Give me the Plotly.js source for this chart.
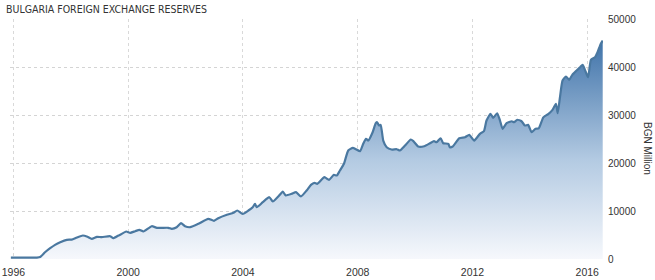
<!DOCTYPE html>
<html>
<head>
<meta charset="utf-8">
<script src="https://cdn.plot.ly/plotly-3.0.1.min.js"></script>
<style>html,body{margin:0;padding:0;background:#fff;}#chart{width:655px;height:280px;}</style>
</head>
<body>
<div id="chart"></div>
<script>
// Decimal years
var years = [1995.91,1996.82,1996.93,1997.10,1997.28,1997.45,1997.63,1997.86,1998.03,1998.21,1998.42,1998.58,1998.73,1998.91,1999.08,1999.37,1999.48,1999.66,1999.72,1999.93,2000.07,2000.24,2000.39,2000.53,2000.82,2001.00,2001.40,2001.52,2001.69,2001.84,2001.98,2002.16,2002.45,2002.79,2002.99,2003.14,2003.44,2003.67,2003.80,2003.99,2004.19,2004.34,2004.42,2004.48,2004.69,2004.92,2005.04,2005.23,2005.39,2005.49,2005.70,2005.85,2006.02,2006.22,2006.37,2006.49,2006.59,2006.84,2007.00,2007.17,2007.27,2007.38,2007.52,2007.67,2007.83,2007.94,2008.08,2008.20,2008.29,2008.37,2008.52,2008.63,2008.68,2008.74,2008.80,2008.89,2009.01,2009.18,2009.36,2009.47,2009.65,2009.85,2009.94,2010.11,2010.32,2010.52,2010.66,2010.75,2010.89,2010.98,2011.16,2011.21,2011.31,2011.54,2011.74,2011.89,2012.06,2012.26,2012.40,2012.49,2012.63,2012.72,2012.86,2012.96,2013.05,2013.19,2013.37,2013.45,2013.56,2013.71,2013.83,2013.94,2014.06,2014.20,2014.31,2014.47,2014.64,2014.79,2014.91,2014.97,2015.05,2015.14,2015.26,2015.37,2015.48,2015.63,2015.75,2015.84,2015.92,2016.03,2016.13,2016.27,2016.36,2016.47,2016.54];
// Reserves, BGN million
var reserves = [300,300,400,1400,2250,2950,3500,4000,4050,4480,4900,4620,4200,4620,4550,4750,4330,4900,5040,5730,5460,5790,6080,5730,6830,6500,6500,6290,6620,7460,6830,6620,7330,8370,7960,8500,9210,9620,10100,9410,10100,10790,11500,10790,11830,12870,11980,13020,14060,13230,13580,13920,13020,14270,15450,15870,15660,17040,16500,17540,17390,18430,19830,22600,23160,22870,22450,24120,25040,24680,26410,28290,28500,27810,27950,24680,23290,22810,22870,22600,23640,24890,24540,23430,23500,24120,24540,24330,25160,24120,24000,23290,23430,25160,25370,25870,24680,26080,26620,28850,30250,29410,30370,28850,27120,28290,28700,28500,29000,28700,27810,27950,26410,27120,27200,29500,30200,31080,32330,30370,33700,37180,38020,37330,38370,39270,39950,40450,39410,37870,41500,42040,43080,44820,45510];
var xTickVals = [1996,2000,2004,2008,2012,2016];
var xTickText = ['1996','2000','2004','2008','2012','2016'];
var yTickVals = [0,10000,20000,30000,40000,50000];
var yTickText = ['0','10000','20000','30000','40000','50000'];
var titleText = 'BULGARIA FOREIGN EXCHANGE RESERVES';
var yTitleText = 'BGN Million';

var trace = {
  x: years, y: reserves, type: 'scatter', mode: 'lines',
  line: {color: '#4a78a0', width: 2.2, shape: 'spline', smoothing: 0.5},
  fill: 'tozeroy',
  fillgradient: {type: 'vertical', start: 0, stop: 46000,
    colorscale: [[0, '#f6f8fc'], [0.45, '#b3cae2'], [1, '#3d71a8']]},
  hoverinfo: 'skip'
};

var layout = {
  width: 655, height: 280,
  margin: {l: 10, r: 52, t: 19, b: 21},
  paper_bgcolor: '#fff', plot_bgcolor: '#fff',
  showlegend: false,
  font: {family: 'Liberation Sans, Arial, sans-serif', size: 10, color: '#333'},
  title: {text: titleText, x: 6/655, xanchor: 'left', xref: 'container',
          y: 1 - 9/280, yanchor: 'middle', yref: 'container',
          font: {family: 'DejaVu Sans Condensed, DejaVu Sans, sans-serif', size: 10.5, color: '#333'}},
  xaxis: {range: [1995.88, 2016.55], tickvals: xTickVals, ticktext: xTickText,
          showgrid: true, gridcolor: '#d9d9d9', griddash: 'dot', gridwidth: 1,
          zeroline: false, showline: false, ticks: '', fixedrange: true,
          ticklabelstandoff: 5,
          tickfont: {size: 10.5, color: '#333'}},
  yaxis: {range: [0, 50000], side: 'right', tickvals: yTickVals, ticktext: yTickText,
          showgrid: true, gridcolor: '#d4d4d4', griddash: 'dot', gridwidth: 1,
          zeroline: false, showline: false, ticks: '', fixedrange: true,
          ticklabelstandoff: 4,
          tickfont: {size: 10, color: '#333'}},
  annotations: [{text: yTitleText, xref: 'paper', yref: 'paper',
                 x: 1 + (648 - 603) / 593, y: (259 - 148) / 240,
                 xanchor: 'center', yanchor: 'middle', textangle: 90,
                 showarrow: false, font: {size: 10, color: '#333'}}]
};

Plotly.newPlot('chart', [trace], layout, {staticPlot: true, displayModeBar: false});
</script>
</body>
</html>
